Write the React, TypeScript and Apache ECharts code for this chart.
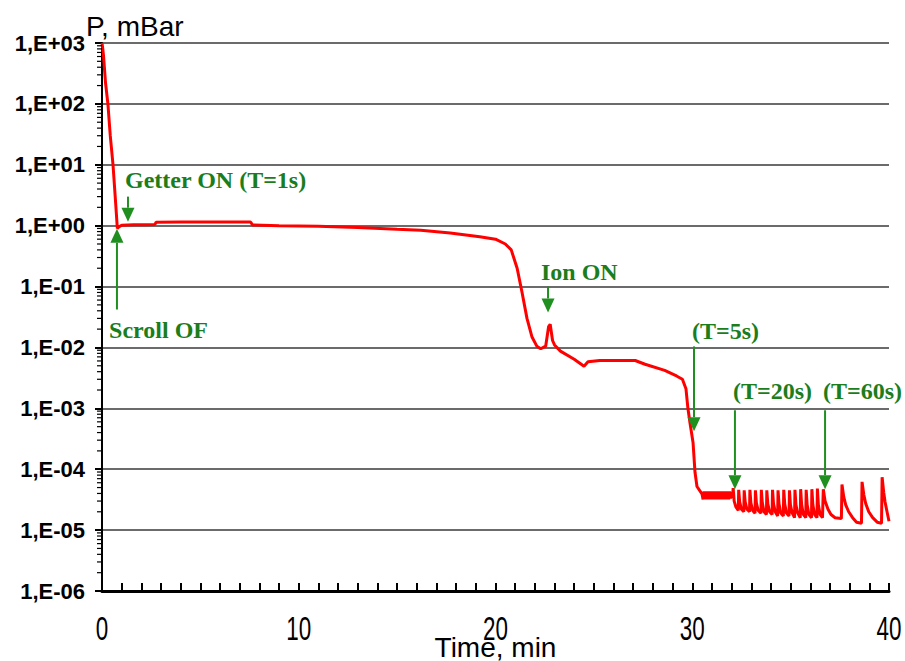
import React, { useEffect, useRef } from "react";
import * as echarts from "echarts";

// ---- data ----
const xTickValues = [0, 10, 20, 30, 40];
const yTickLabels = ["1,E-06", "1,E-05", "1,E-04", "1,E-03", "1,E-02", "1,E-01", "1,E+00", "1,E+01", "1,E+02", "1,E+03"];

const pumpDown: [number, number][] = [
  [0, 1000], [0.04, 800], [0.08, 600], [0.12, 400], [0.18, 220], [0.3, 100], [0.42, 30], [0.56, 10],
  [0.7, 2.2], [0.78, 0.9], [0.85, 0.95], [1.0, 1.02], [1.6, 1.04], [2.2, 1.04], [2.69, 1.05],
  [2.75, 1.14], [4, 1.15], [6, 1.15], [7.55, 1.15], [7.65, 1.03], [9, 1.0], [11, 0.98], [13, 0.93],
  [15, 0.87], [16.2, 0.84], [17.7, 0.76], [19.2, 0.66], [20.0, 0.6], [20.5, 0.5], [20.8, 0.4],
];
const ionPhase: [number, number][] = [
  [21.1, 0.2], [21.35, 0.08], [21.6, 0.03], [21.85, 0.015], [22.1, 0.0105], [22.3, 0.0095],
  [22.55, 0.0105], [22.7, 0.022], [22.78, 0.024], [22.9, 0.013], [23.0, 0.011], [23.3, 0.0087],
  [24.0, 0.0064], [24.5, 0.0049], [24.7, 0.0058], [25.3, 0.0061], [27.1, 0.0061], [27.6, 0.0053],
  [28.6, 0.0042], [29.2, 0.0034], [29.5, 0.003], [29.68, 0.0021], [29.78, 0.001], [29.88, 5.9e-4],
  [30.04, 2.75e-4], [30.14, 8.9e-5], [30.24, 5.2e-5], [30.5, 3.9e-5],
];
const plateau5s: [number, number][] = [
  [30.55, 3.2e-5], [30.6, 4.3e-5], [30.65, 3.2e-5], [30.7, 4.3e-5], [30.75, 3.2e-5], [30.8, 4.3e-5],
  [30.85, 3.2e-5], [30.9, 4.3e-5], [30.95, 3.2e-5], [31.0, 4.3e-5], [31.05, 3.2e-5], [31.1, 4.3e-5],
  [31.15, 3.2e-5], [31.2, 4.3e-5], [31.25, 3.2e-5], [31.3, 4.3e-5], [31.35, 3.2e-5], [31.4, 4.3e-5],
  [31.45, 3.2e-5], [31.5, 4.3e-5], [31.55, 3.2e-5], [31.6, 4.3e-5], [31.65, 3.2e-5], [31.7, 4.3e-5],
  [31.75, 3.2e-5], [31.8, 4.3e-5], [31.85, 3.2e-5], [31.9, 4.3e-5], [31.95, 3.3e-5], [32.0, 4.2e-5],
  [32.05, 3.6e-5],
];
const cycles20s: [number, number][] = [
  [32.08, 4.9e-5], [32.13, 3.0e-5], [32.22, 2.4e-5], [32.34, 2.1e-5],
  [32.36, 4.6e-5], [32.41, 2.9e-5], [32.5, 2.2e-5], [32.62, 2.0e-5],
  [32.64, 4.5e-5], [32.69, 2.9e-5], [32.78, 2.2e-5], [32.91, 2.0e-5],
  [32.93, 4.6e-5], [32.98, 2.8e-5], [33.07, 2.1e-5], [33.19, 1.9e-5],
  [33.21, 4.5e-5], [33.26, 2.8e-5], [33.35, 2.1e-5], [33.49, 1.9e-5],
  [33.51, 4.6e-5], [33.56, 2.8e-5], [33.65, 2.0e-5], [33.77, 1.8e-5],
  [33.79, 4.5e-5], [33.84, 2.7e-5], [33.93, 2.0e-5], [34.06, 1.8e-5],
  [34.08, 4.6e-5], [34.13, 2.7e-5], [34.22, 2.0e-5], [34.34, 1.7e-5],
  [34.36, 4.5e-5], [34.41, 2.7e-5], [34.5, 1.9e-5], [34.63, 1.7e-5],
  [34.65, 4.6e-5], [34.7, 2.7e-5], [34.79, 1.9e-5], [34.92, 1.7e-5],
  [34.94, 4.5e-5], [34.99, 2.6e-5], [35.08, 1.9e-5], [35.2, 1.6e-5],
  [35.22, 4.6e-5], [35.27, 2.6e-5], [35.36, 1.9e-5], [35.49, 1.6e-5],
  [35.51, 4.7e-5], [35.56, 2.6e-5], [35.65, 1.8e-5], [35.77, 1.6e-5],
  [35.79, 4.6e-5], [35.84, 2.6e-5], [35.93, 1.8e-5], [36.06, 1.6e-5],
  [36.08, 4.7e-5], [36.13, 2.6e-5], [36.22, 1.8e-5], [36.34, 1.6e-5],
  [36.36, 4.8e-5], [36.41, 2.6e-5], [36.5, 1.8e-5], [36.62, 1.6e-5],
];
const cycles60s: [number, number][] = [
  [36.66, 4.7e-5], [36.75, 3.0e-5], [36.9, 2.2e-5], [37.05, 1.8e-5], [37.26, 1.6e-5], [37.58, 1.55e-5],
  [37.61, 5.6e-5], [37.7, 3.5e-5], [37.8, 2.6e-5], [37.95, 2.0e-5], [38.15, 1.6e-5], [38.35, 1.35e-5], [38.6, 1.3e-5],
  [38.63, 6.2e-5], [38.72, 3.8e-5], [38.82, 2.7e-5], [38.97, 2.0e-5], [39.17, 1.6e-5], [39.4, 1.35e-5], [39.62, 1.3e-5],
  [39.65, 7.4e-5], [39.73, 4.2e-5], [39.8, 2.9e-5], [39.9, 2.0e-5], [40.0, 1.4e-5],
];

// annotations: text anchor (left, middle) and arrow from -> tip, in data coordinates
const annotations = [
  { text: "Getter ON (T=1s)", at: [1.17, 5.7], from: [1.32, 3.0], tip: [1.32, 1.16] },
  { text: "Scroll OF", at: [0.36, 0.0197], from: [0.76, 0.042], tip: [0.76, 0.89] },
  { text: "Ion ON", at: [22.31, 0.176], from: [22.67, 0.1], tip: [22.67, 0.0375] },
  { text: "(T=5s)", at: [29.99, 0.0183], from: [30.09, 0.0104], tip: [30.09, 4.2e-4] },
  { text: "(T=20s)", at: [32.07, 0.0019], from: [32.17, 9.3e-4], tip: [32.17, 4.7e-5] },
  { text: "(T=60s)", at: [36.65, 0.0019], from: [36.75, 9.3e-4], tip: [36.75, 4.7e-5] },
];

const allData = [...pumpDown, ...ionPhase, ...plateau5s, ...cycles20s, ...cycles60s];

const TEXT_GREEN = "#1b7d1b";
const ARROW_GREEN = "#1f8f1f";

export default function App() {
  const ref = useRef<HTMLDivElement>(null);
  useEffect(() => {
    if (!ref.current) return;
    const chart = echarts.init(ref.current, undefined, { renderer: "svg" });
    const option: any = {
      animation: false,
      backgroundColor: "#ffffff",
      grid: { left: 102, right: 16, top: 43, bottom: 70, containLabel: false, outerBoundsMode: "none" },
      xAxis: {
        type: "value",
        min: 0,
        max: 40,
        interval: 10,
        name: "Time, min",
        nameLocation: "middle",
        nameGap: 42,
        nameTextStyle: { fontSize: 28, fontFamily: "Liberation Sans, Arial", color: "#000" },
        axisLine: { show: true, lineStyle: { color: "#000", width: 3 } },
        axisTick: { show: true, inside: true, length: 8, lineStyle: { color: "#000", width: 2 } },
        minorTick: { show: true, splitNumber: 10, length: 8, lineStyle: { color: "#000", width: 2 } },
        axisLabel: { show: false },
        splitLine: { show: false },
      },
      yAxis: {
        type: "log",
        logBase: 10,
        min: 1e-6,
        max: 1e3,
        interval: 1,
        axisLine: { show: true, lineStyle: { color: "#000", width: 2 } },
        axisTick: { show: true, length: 7, lineStyle: { color: "#000", width: 2 } },
        axisLabel: {
          margin: 17,
          fontSize: 22,
          fontWeight: "bold",
          fontFamily: "Liberation Sans, Arial",
          color: "#000",
          formatter: (v: number) => {
            const e = Math.round(Math.log10(v));
            return yTickLabels[e + 6] ?? "";
          },
        },
        splitLine: { show: true, lineStyle: { color: "#3a3a3a", width: 1.5 } },
      },
      series: [
        {
          type: "line",
          data: allData,
          showSymbol: false,
          symbol: "none",
          lineStyle: { color: "#ff0000", width: 3 },
          z: 5,
        },
      ],
    };
    chart.setOption(option);

    const px = (p: number[]) => chart.convertToPixel({ gridIndex: 0 }, p) as number[];
    const graphics: any[] = [];
    // y-axis minor ticks at 2..9 of each decade
    const axisX = px([0, 1])[0];
    const axisBottom = px([0, 1e-6])[1];
    for (let d = -6; d < 3; d++) {
      for (let k = 2; k <= 9; k++) {
        const y = px([0, k * Math.pow(10, d)])[1];
        graphics.push({
          type: "line",
          shape: { x1: axisX - 5, y1: y, x2: axisX, y2: y },
          style: { stroke: "#000", lineWidth: 1.2 },
          z: 10,
        });
      }
    }
    // x tick labels (condensed, as in the reference)
    xTickValues.forEach((v) => {
      const p = px([v, 1e-6]);
      graphics.push({
        type: "text",
        x: p[0],
        y: axisBottom + 37,
        scaleX: 0.68,
        style: { text: String(v), fill: "#000", font: '33px "Liberation Sans", Arial', align: "center", verticalAlign: "middle" },
        z: 10,
      });
    });
    // axis title
    graphics.push({
      type: "text",
      x: 86,
      y: 26,
      style: { text: "P, mBar", fill: "#000", font: '28px "Liberation Sans", Arial', align: "left", verticalAlign: "middle" },
      z: 10,
    });
    annotations.forEach((a) => {
      const t = px(a.at);
      const f = px(a.from);
      const tip = px(a.tip);
      const dir = tip[1] > f[1] ? 1 : -1;
      const headH = 14;
      const headW = 6.5;
      const baseY = tip[1] - dir * headH;
      graphics.push({
        type: "text",
        x: t[0],
        y: t[1],
        style: { text: a.text, fill: TEXT_GREEN, font: 'bold 24px "Liberation Serif", "Times New Roman", serif', align: "left", verticalAlign: "middle" },
        z: 20,
      });
      graphics.push({
        type: "line",
        shape: { x1: f[0], y1: f[1], x2: tip[0], y2: baseY },
        style: { stroke: ARROW_GREEN, lineWidth: 2 },
        z: 20,
      });
      graphics.push({
        type: "polygon",
        shape: { points: [[tip[0] - headW, baseY], [tip[0] + headW, baseY], [tip[0], tip[1]]] },
        style: { fill: ARROW_GREEN },
        z: 20,
      });
    });
    chart.setOption({ graphic: graphics });

    return () => chart.dispose();
  }, []);
  return <div ref={ref} style={{ width: 905, height: 661, position: "absolute", left: 0, top: 0 }} />;
}
